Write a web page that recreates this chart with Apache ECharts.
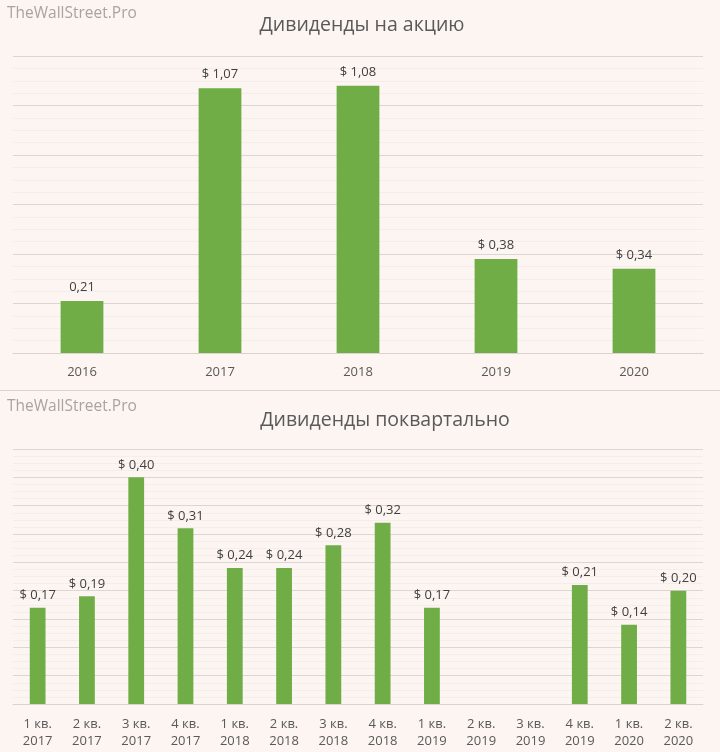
<!DOCTYPE html>
<html>
<head>
<meta charset="utf-8">
<script src="https://cdn.jsdelivr.net/npm/echarts@6/dist/echarts.min.js"></script>
<style>
  html, body { margin: 0; padding: 0; background: #fcf5f1; }
  #main { width: 720px; height: 752px; }
</style>
</head>
<body>
<div id="main"></div>
<script>
// годовые дивиденды
var years = ["2016", "2017", "2018", "2019", "2020"];
var yearValues = [0.21, 1.07, 1.08, 0.38, 0.34];

// поквартально
var quarters = ["1 кв.\n2017", "2 кв.\n2017", "3 кв.\n2017", "4 кв.\n2017",
  "1 кв.\n2018", "2 кв.\n2018", "3 кв.\n2018", "4 кв.\n2018",
  "1 кв.\n2019", "2 кв.\n2019", "3 кв.\n2019", "4 кв.\n2019",
  "1 кв.\n2020", "2 кв.\n2020"];
var quarterValues = [0.17, 0.19, 0.40, 0.31, 0.24, 0.24, 0.28, 0.32, 0.17, null, null, 0.21, 0.14, 0.20];

var myChart = echarts.init(document.getElementById('main'));
var font = "'Open Sans', 'Noto Sans', sans-serif";
var green = "#70ad47";

function money(v, withSign) {
  var s = v.toFixed(2).replace('.', ',');
  return withSign ? '$ ' + s : s;
}

function valueAxis(gridIndex, max, interval) {
  return {
    type: 'value',
    gridIndex: gridIndex,
    min: 0,
    max: max,
    interval: interval,
    axisLabel: { show: false },
    axisLine: { show: false },
    axisTick: { show: false },
    splitLine: { lineStyle: { color: '#dcd6d3', width: 1 } },
    minorTick: { show: false, splitNumber: 4 },
    minorSplitLine: { show: true, lineStyle: { color: '#f4ede9', width: 1 } }
  };
}

var option = {
  backgroundColor: '#fcf5f1',
  animation: false,
  textStyle: { fontFamily: font },
  title: [
    {
      text: 'Дивиденды на акцию',
      left: 357, top: 10, textAlign: 'center',
      textStyle: { fontFamily: font, fontSize: 19.5, fontWeight: 'normal', color: '#595959' }
    },
    {
      text: 'Дивиденды поквартально',
      left: 380, top: 405, textAlign: 'center',
      textStyle: { fontFamily: font, fontSize: 19.5, fontWeight: 'normal', color: '#595959' }
    }
  ],
  graphic: [
    { type: 'text', left: 7, top: 6, style: { text: 'TheWallStreet.Pro', fill: '#a8a4a2', font: '15.5px ' + font } },
    { type: 'text', left: 7, top: 399, style: { text: 'TheWallStreet.Pro', fill: '#a8a4a2', font: '15.5px ' + font } },
    { type: 'line', shape: { x1: 0, y1: 390.5, x2: 720, y2: 390.5 }, style: { stroke: '#d9d3d0', lineWidth: 1 } }
  ],
  grid: [
    { left: 13, right: 17, top: 56, height: 297 },
    { left: 13, right: 17, top: 449, height: 255 }
  ],
  xAxis: [
    {
      type: 'category', gridIndex: 0, data: years,
      axisTick: { show: false },
      axisLine: { lineStyle: { color: '#d9d3d0' } },
      axisLabel: { color: '#595959', fontSize: 13, margin: 13, fontFamily: font }
    },
    {
      type: 'category', gridIndex: 1, data: quarters,
      axisTick: { show: false },
      axisLine: { lineStyle: { color: '#d9d3d0' } },
      axisLabel: { color: '#595959', fontSize: 13, lineHeight: 17, margin: 12, fontFamily: font, interval: 0 }
    }
  ],
  yAxis: [
    valueAxis(0, 1.2, 0.2),
    valueAxis(1, 0.45, 0.05)
  ],
  series: [
    {
      type: 'bar', xAxisIndex: 0, yAxisIndex: 0,
      data: yearValues,
      barWidth: '31%',
      itemStyle: { color: green },
      label: {
        show: true, position: 'top', distance: 7,
        color: '#404040', fontSize: 13, fontFamily: font,
        formatter: function (p) { return money(p.value, p.dataIndex !== 0); }
      }
    },
    {
      type: 'bar', xAxisIndex: 1, yAxisIndex: 1,
      data: quarterValues,
      barWidth: '32%',
      itemStyle: { color: green },
      label: {
        show: true, position: 'top', distance: 6,
        color: '#404040', fontSize: 13, fontFamily: font,
        formatter: function (p) { return p.value == null ? '' : money(p.value, true); }
      }
    }
  ]
};

myChart.setOption(option);
window.addEventListener("resize", function () {
  myChart.resize();
});
</script>
</body>
</html>
